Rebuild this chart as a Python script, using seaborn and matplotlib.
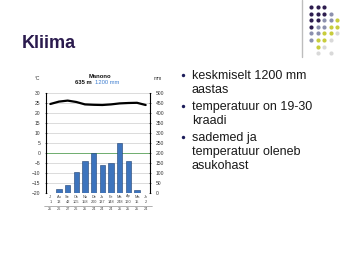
import matplotlib
matplotlib.use("Agg")
import matplotlib.pyplot as plt
import seaborn as sns
import numpy as np
import pandas as pd

# ---- data ----
months = ["Jl", "Au", "Se", "Ok", "No", "De", "Ja", "Fe", "Mä", "Ap", "Ma", "Jn"]
precip_mm = [0, 18, 42, 105, 160, 200, 140, 148, 248, 160, 15, 0]
temp_c = [24.5, 25.7, 26.2, 25.5, 24.3, 24.1, 24.0, 24.3, 24.8, 25.0, 25.1, 24.0]
precip_row = ["1", "13", "42", "105", "158", "200", "137", "148", "248", "160", "15", "2"]
temp_row = ["25", "26", "27", "26", "25", "24", "24", "24", "25", "25", "25", "24"]
temp_ticks = [-20, -15, -10, -5, 0, 5, 10, 15, 20, 25, 30]
mm_ticks = [0, 50, 100, 150, 200, 250, 300, 350, 400, 450, 500]
bullets = [["keskmiselt 1200 mm", "aastas"],
           ["temperatuur on 19-30", "kraadi"],
           ["sademed ja", "temperatuur oleneb", "asukohast"]]

W, H = 347, 260
sns.set_theme(style="white")
plt.rcParams['font.family'] = ['Liberation Sans', 'DejaVu Sans']
fig = plt.figure(figsize=(W / 100, H / 100), dpi=100)
fig.patch.set_facecolor("white")

# overlay for slide decorations (pixel coordinates)
deco = fig.add_axes([0, 0, 1, 1])
deco.set_xlim(0, W)
deco.set_ylim(H, 0)
deco.axis("off")

deco.text(22, 48, "Kliima", fontsize=13, fontweight="bold", color="#2b1b4e", va="baseline")
deco.plot([302, 302], [0, 57], color="#bdbdbd", lw=1)

dk, gb, yl, lg = "#2e1d4f", "#8c90ad", "#c8cc3c", "#d9d9d9"
dot_rows = [
    [dk, dk, dk, None, None, None],
    [dk, dk, dk, gb, None, None],
    [dk, dk, gb, gb, yl, None],
    [dk, gb, gb, yl, yl, None],
    [gb, gb, yl, yl, lg, None],
    [gb, yl, yl, lg, None, None],
    [None, yl, lg, None, None, None],
    [None, lg, None, lg, None, None],
]
for r, row in enumerate(dot_rows):
    for c, col in enumerate(row):
        if col:
            deco.scatter(311 + c * 6.6, 7 + r * 6.6, s=9, color=col, linewidths=0)

# bullets
y = 79
for group in bullets:
    deco.scatter(183, y - 4, s=6, color="#1c1c5a", linewidths=0)
    for line in group:
        deco.text(192, y, line, fontsize=9, color="#1a1a1a", va="baseline")
        y += 14
    y += 3

# ---- climate chart ----
left, right, top, bottom = 46, 150, 93, 193
ax = fig.add_axes([left / W, 1 - bottom / H, (right - left) / W, (bottom - top) / H])
ax2 = ax.twinx()
ax.set_zorder(2)
ax.patch.set_visible(False)

df = pd.DataFrame({"month": months, "precip": precip_mm, "temp": temp_c, "pos": np.arange(12)})

sns.barplot(data=df, x="month", y="precip", ax=ax2, color="#3d74bd", width=0.65,
            edgecolor="#1e3f70", linewidth=0.4, saturation=1)
ax2.set_ylim(0, 500)
ax2.set_yticks(mm_ticks)
ax2.set_ylabel("")
ax2.set_xlabel("")

sns.lineplot(data=df, x="pos", y="temp", ax=ax, color="black", lw=1.6)
ax.set_xlim(-0.5, 11.5)
ax.set_ylim(-20, 30)
ax.set_yticks(temp_ticks)
ax.set_xticks([])
ax.set_xlabel("")
ax.set_ylabel("")
ax2.set_xlim(-0.5, 11.5)
ax2.set_xticks([])

for t in temp_ticks:
    ax2.axhline((t + 20) * 10, color="#d6d6d6", lw=0.6, zorder=0)
ax2.axhline(200, color="#6fae6f", lw=0.7, zorder=0.5)

for a in (ax, ax2):
    for s in a.spines.values():
        s.set_visible(False)
ax.spines["left"].set_visible(True)
ax.spines["left"].set_color("black")
ax.spines["left"].set_linewidth(0.8)
ax2.spines["right"].set_visible(True)
ax2.spines["right"].set_color("black")
ax2.spines["right"].set_linewidth(0.8)
ax.tick_params(axis="y", labelsize=3.6, length=2, width=0.5, direction="inout", pad=3, colors="#333333", left=True)
ax2.tick_params(axis="y", labelsize=3.6, length=2, width=0.5, direction="inout", pad=3, colors="#333333", right=True)
ax.spines["left"].set_color("black")
ax2.spines["right"].set_color("black")

# chart header
deco.text(100, 78, "Manono", fontsize=4.2, fontweight="bold", ha="center", va="baseline", color="#111111")
deco.text(92, 84.5, "635 m", fontsize=4.2, fontweight="bold", ha="right", va="baseline", color="#111111")
deco.text(95, 84.5, "1200 mm", fontsize=4.2, ha="left", va="baseline", color="#3f7fd0")
deco.text(38, 80, "°C", fontsize=3.6, ha="center", va="baseline", color="#333333")
deco.text(158, 80, "mm", fontsize=3.6, ha="center", va="baseline", color="#333333")

# rows under the chart
xs = [left + (i + 0.5) * (right - left) / 12 for i in range(12)]
for i in range(12):
    deco.text(xs[i], 197.5, months[i], fontsize=2.8, ha="center", va="baseline", color="#444444")
    deco.text(xs[i], 203, precip_row[i], fontsize=2.8, ha="center", va="baseline", color="#444444")
    deco.text(xs[i], 210.5, temp_row[i], fontsize=2.8, ha="center", va="baseline", color="#444444")
deco.plot([left - 2, right + 2], [205.5, 205.5], color="#777777", lw=0.4)

fig.savefig("out.png", dpi=100, facecolor="white")
